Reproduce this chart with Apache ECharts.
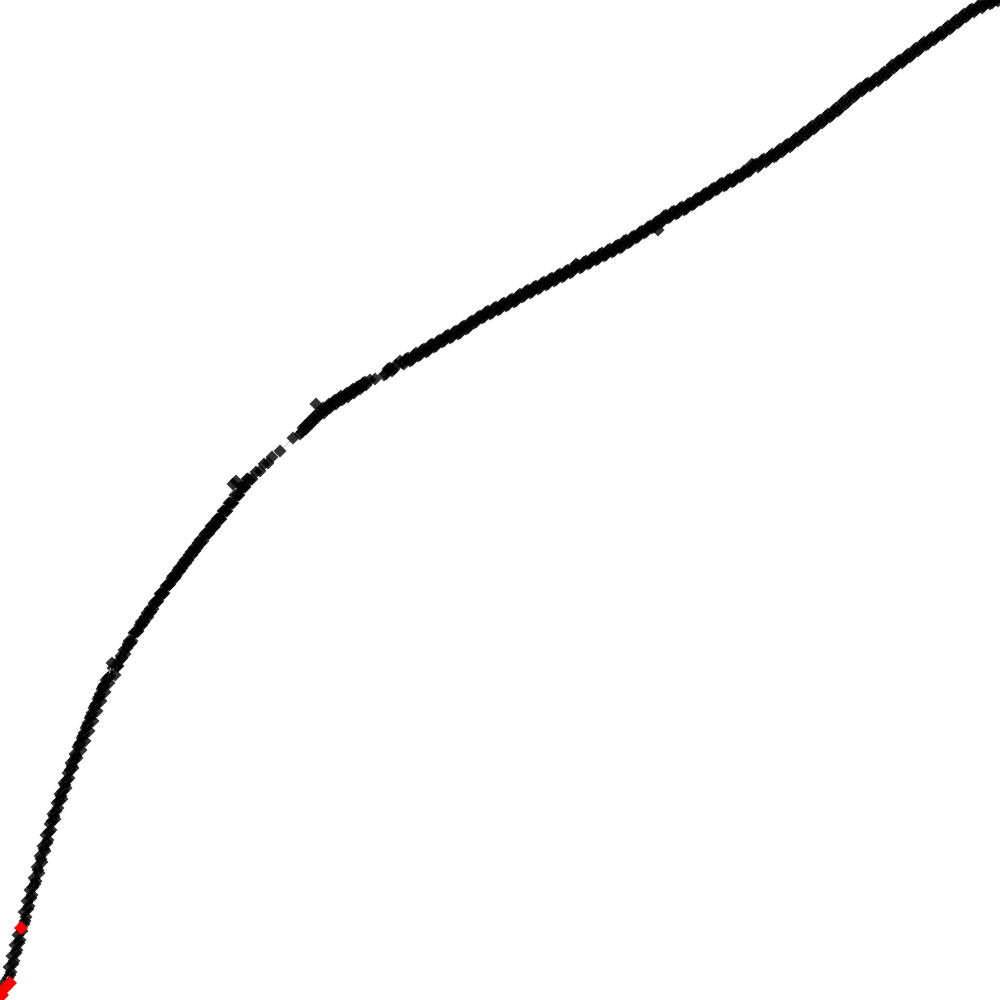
<!DOCTYPE html>
<html>
<head>
<meta charset="utf-8">
<script src="https://cdn.jsdelivr.net/npm/echarts@6/dist/echarts.min.js"></script>
<style>html,body{margin:0;padding:0;background:#fff}#c{width:1000px;height:1000px}</style>
</head>
<body>
<div id="c"></div>
<script>
// main series: [x, y] (y axis inverted)
const mainPoints = [
[1,996],[6,987],[4,983],[11,972],[9,967],[14,961],[12,956],[17,950],[15,945],[20,940],
[18,935],[24,924],[26,917],[24,912],[29,906],[27,901],[32,895],[30,890],[35,884],[34,878],
[39,873],[37,867],[42,862],[40,856],[45,851],[43,846],[48,840],[46,835],[51,830],[50,824],
[55,819],[53,814],[58,808],[57,803],[62,799],[60,794],[66,788],[64,783],[69,778],[68,773],
[73,768],[71,763],[77,758],[75,754],[81,750],[79,745],[85,741],[83,736],[89,731],[87,726],
[93,721],[91,716],[97,711],[95,706],[101,701],[99,697],[105,692],[103,687],[109,683],[108,678],
[112,663],[115,675],[117,666],[119,661],[122,658],[124,650],[127,648],[129,641],[132,641],[134,633],
[137,632],[140,625],[142,625],[145,617],[148,617],[150,609],[153,609],[156,601],[158,601],[161,593],
[164,593],[167,585],[169,585],[172,578],[175,578],[178,570],[180,571],[183,563],[186,563],[189,555],
[192,555],[194,548],[197,548],[200,540],[203,541],[206,533],[209,533],[212,526],[215,526],[218,519],
[221,519],[224,511],[227,511],[230,503],[233,484],[233,503],[236,481],[236,495],[239,495],[242,487],
[245,487],[248,479],[252,479],[256,472],[260,471],[264,464],[268,463],[272,457],[280,451],[293,438],
[300,434],[303,428],[306,429],[309,422],[312,423],[315,416],[316,404],[318,417],[321,411],[324,413],
[327,407],[330,408],[333,402],[336,404],[339,398],[342,400],[345,395],[348,397],[351,391],[354,393],
[357,387],[360,389],[363,383],[366,385],[370,380],[375,379],[384,375],[388,369],[392,371],[396,365],
[402,363],[406,359],[410,361],[414,355],[418,356],[422,350],[426,352],[430,345],[434,347],[438,341],
[442,342],[446,336],[450,338],[454,332],[458,334],[462,327],[466,329],[470,322],[474,323],[478,317],
[482,318],[486,312],[490,314],[494,308],[498,310],[502,304],[506,306],[510,300],[514,302],[518,296],
[522,297],[526,291],[530,293],[534,287],[538,289],[542,283],[546,285],[550,279],[554,281],[558,275],
[562,277],[566,271],[570,273],[574,267],[575,268],[578,265],[582,267],[586,261],[590,263],[594,257],
[598,259],[602,253],[606,255],[610,249],[614,251],[618,245],[622,247],[626,240],[630,242],[634,236],
[638,237],[642,231],[646,232],[650,226],[654,227],[658,230],[658,221],[662,222],[666,215],[670,217],
[674,211],[678,213],[682,207],[686,209],[690,203],[694,204],[698,198],[702,199],[706,193],[710,194],
[714,188],[718,189],[722,183],[726,185],[730,179],[734,181],[738,175],[742,176],[746,170],[750,171],
[752,164],[754,165],[758,167],[762,160],[766,162],[770,156],[774,157],[778,151],[782,152],[786,145],
[790,147],[794,140],[798,141],[802,134],[806,135],[810,128],[814,129],[818,122],[822,123],[826,116],
[830,117],[834,110],[838,111],[842,103],[846,104],[850,96],[854,97],[858,90],[862,91],[866,84],
[870,86],[874,80],[878,81],[882,74],[886,75],[890,68],[894,68],[898,61],[902,63],[906,56],
[910,57],[914,50],[918,51],[922,44],[926,45],[930,39],[934,40],[938,34],[942,35],[946,28],
[950,29],[954,22],[958,23],[962,16],[966,17],[970,10],[974,12],[978,6],[982,8],[986,2],
[990,4],[994,0],[998,1]
];
// second batch of observations along the same curve: [x, y]
const extraPoints = [
[3,990],[8,978],[10,975],[13,964],[16,953],[19,943],[22,931],[25,921],[28,909],[31,898],
[33,887],[36,881],[38,870],[41,859],[44,849],[47,843],[49,832],[52,821],[54,816],[56,811],
[59,801],[61,796],[63,791],[65,785],[67,780],[70,770],[72,766],[74,760],[76,756],[78,747],
[80,743],[82,738],[84,733],[86,728],[88,723],[90,718],[92,713],[94,708],[96,704],[98,699],
[100,694],[102,689],[104,685],[106,680],[110,676],
[113,668],[118,666],[121,656],[125,654],[128,644],[131,643],[135,632],[138,631],[141,622],[144,622],
[147,613],[151,612],[154,603],[157,602],[160,594],[163,594],[166,586],[170,584],[173,576],[176,576],
[179,568],[182,568],[185,560],[188,560],[191,552],[195,551],[198,543],[201,543],[205,534],[208,534],
[211,526],[214,527],[217,519],[220,519],[223,511],[226,511],[229,503],[232,503],[235,495],[238,495],
[241,487],[244,487],[247,479],[250,480],
[302,432],[305,426],[308,426],[311,420],[314,420],[317,414],[320,414],[323,408],[326,410],[329,404],
[332,405],[335,400],[338,401],[341,396],[344,398],[347,393],[350,394],[353,389],[356,390],[359,386],
[362,387],[365,382],
[386,374],[390,368],[394,369],[400,361],[404,364],[408,358],[412,360],[416,353],[420,355],[424,349],
[428,351],[432,344],[436,346],[440,340],[444,341],[448,335],[452,337],[456,331],[460,333],[464,326],
[468,328],[472,321],[476,322],[480,316],[484,317],[488,311],[492,313],[496,307],[500,309],[504,303],
[508,305],[512,299],[516,301],[520,294],[524,296],[528,290],[532,292],[536,286],[540,288],[544,282],
[548,284],[552,278],[556,280],[560,274],[564,276],[568,270],[572,272],[576,264],[580,268],[584,262],
[588,264],[592,258],[596,260],[600,254],[604,256],[608,250],[612,252],[616,246],[620,248],[624,241],
[628,243],[632,237],[636,238],[640,232],[644,233],[648,227],[652,228],[656,222],[660,223],[664,216],
[668,218],[672,212],[676,214],[680,208],[684,210],[688,204],[692,205],[696,199],[700,200],[704,194],
[708,195],[712,189],[716,190],[720,184],[724,186],[728,180],[732,182],[736,176],[740,177],[744,171],
[748,172],[756,164],[760,165],[764,159],[768,160],[772,154],[776,156],[780,149],[784,150],[788,144],
[792,145],[796,138],[800,139],[804,132],[808,133],[812,126],[816,127],[820,120],[824,121],[828,114],
[832,115],[836,108],[840,109],[844,101],[848,102],[852,94],[856,95],[860,88],[864,89],[868,83],
[872,84],[876,78],[880,79],[884,72],[888,73],[892,65],[896,66],[900,60],[904,61],[908,54],
[912,55],[916,48],[920,49],[924,42],[928,44],[932,37],[936,38],[940,32],[944,33],[948,26],
[952,27],[956,20],[960,21],[964,14],[968,15],[972,9],[976,10],[980,5],[984,6],[988,2],
[992,3],[996,0]
];
// highlighted points: [x, y]
const redPoints = [[2,995],[6,987],[10,983],[21,928]];

const chart = echarts.init(document.getElementById('c'), null, {renderer: 'canvas'});
chart.setOption({
  animation: false,
  backgroundColor: '#ffffff',
  grid: {left: 0, right: 0, top: 0, bottom: 0},
  xAxis: {type: 'value', min: 0, max: 1000, show: false},
  yAxis: {type: 'value', min: 0, max: 1000, inverse: true, show: false},
  series: [
    {
      type: 'line',
      data: mainPoints,
      symbol: 'diamond',
      symbolSize: 13,
      showAllSymbol: true,
      clip: false,
      lineStyle: {color: '#bbbbbb', width: 1},
      itemStyle: {color: '#000000', opacity: 0.8, borderWidth: 0}
    },
    {
      type: 'scatter',
      data: extraPoints,
      symbol: 'diamond',
      symbolSize: 13,
      clip: false,
      itemStyle: {color: '#000000', opacity: 0.8}
    },
    {
      type: 'scatter',
      data: redPoints,
      symbol: 'diamond',
      symbolSize: 14,
      clip: false,
      z: 10,
      itemStyle: {color: '#ff0000', opacity: 1}
    }
  ]
});
</script>
</body>
</html>
